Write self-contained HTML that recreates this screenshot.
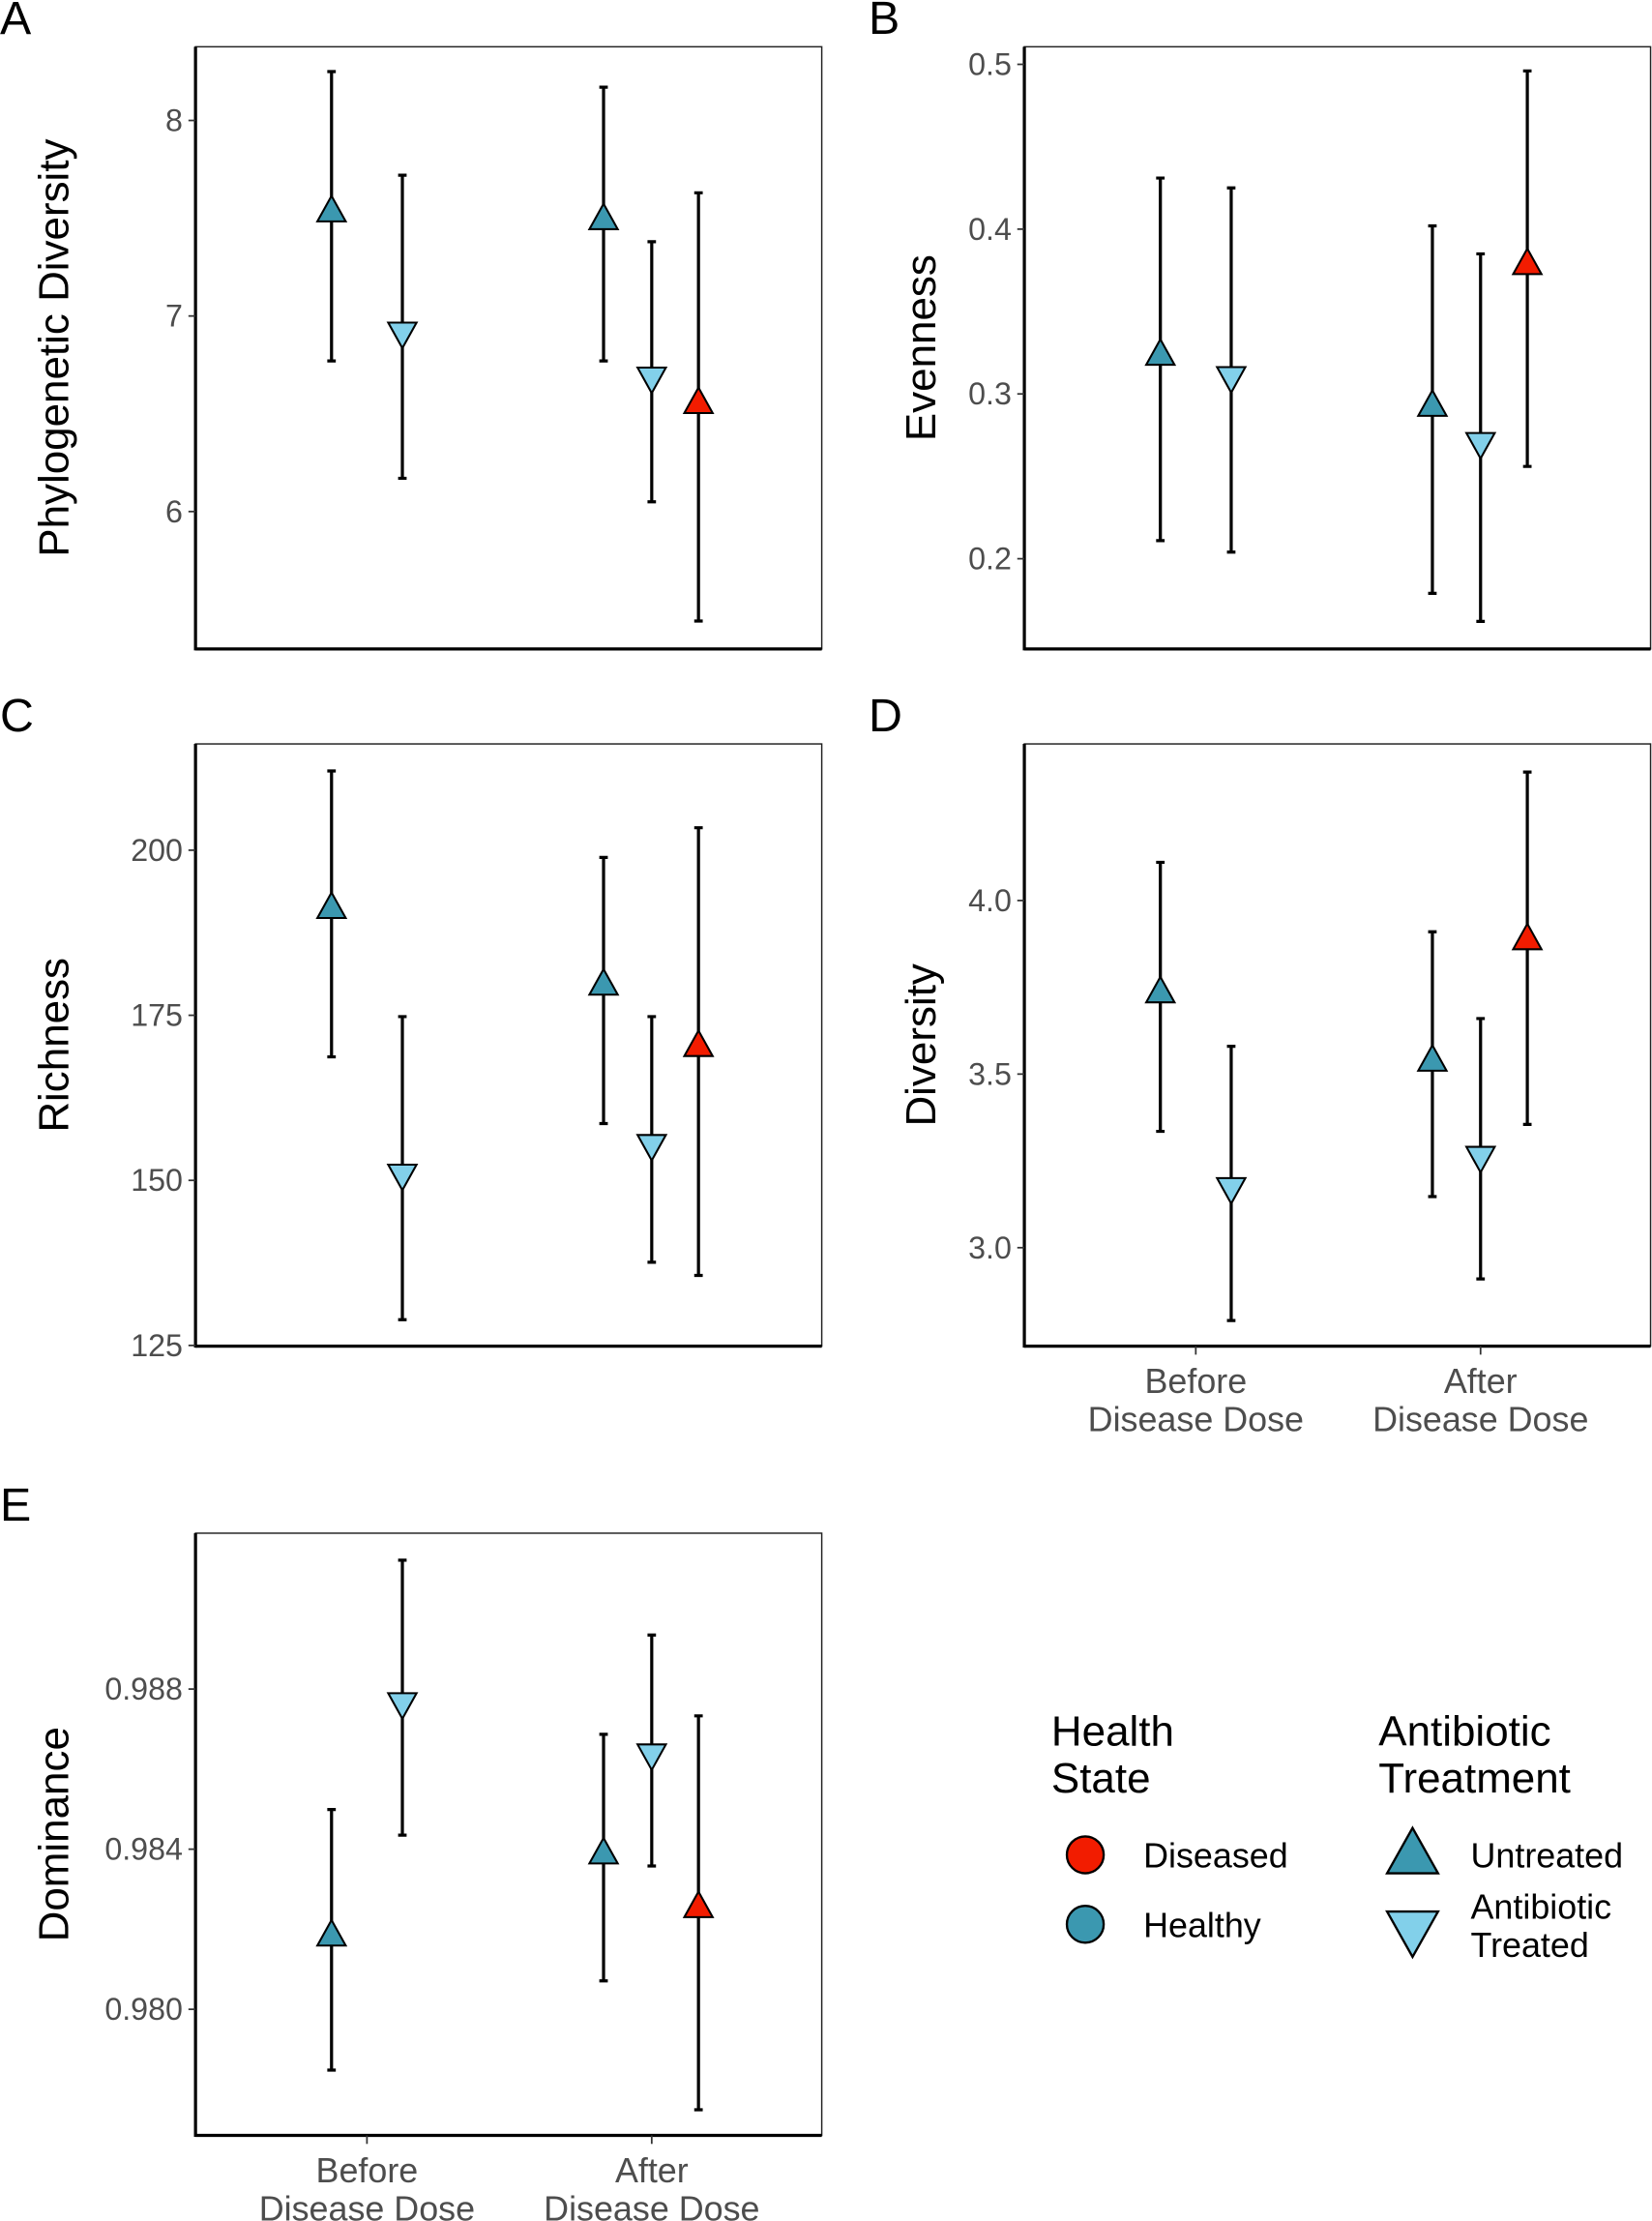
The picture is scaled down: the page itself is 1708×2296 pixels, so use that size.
<!DOCTYPE html>
<html><head><meta charset="utf-8"><style>
html,body{margin:0;padding:0;background:#fff;}
svg{display:block;font-family:"Liberation Sans",Arial,sans-serif;}
</style></head><body>
<svg id="fig" width="1708" height="2296" viewBox="0 0 1166 1567.4" xmlns="http://www.w3.org/2000/svg">
<g>
<text x="742" y="1232" font-size="30" fill="#000">Health</text>
<text x="742" y="1265" font-size="30" fill="#000">State</text>
<text x="973" y="1232" font-size="30" fill="#000">Antibiotic</text>
<text x="973" y="1265" font-size="30" fill="#000">Treatment</text>
<ellipse cx="766" cy="1309" rx="13" ry="13" fill="#f21c00" stroke="#000" stroke-width="1.6"/>
<text x="807" y="1318" font-size="24.5">Diseased</text>
<ellipse cx="766" cy="1358" rx="13" ry="13" fill="#3b98b0" stroke="#000" stroke-width="1.6"/>
<text x="807" y="1367" font-size="24.5">Healthy</text>
<polygon points="997,1290 1015,1322 979,1322" fill="#3b98b0" stroke="#000" stroke-width="1.6"/>
<text x="1038" y="1318" font-size="24.5">Untreated</text>
<polygon points="979,1349 1015,1349 997,1381" fill="#82d0ea" stroke="#000" stroke-width="1.6"/>
<text x="1038" y="1354" font-size="24.5">Antibiotic</text>
<text x="1038" y="1381" font-size="24.5">Treated</text>
</g>
</svg>
<script>
// shared per-point categories
const pointGroup = [0, 0, 1, 1, 1];            // 0 = Before, 1 = After
const pointTreat = ["up", "down", "up", "down", "up"];
const pointHealth = ["Healthy", "Healthy", "Healthy", "Healthy", "Diseased"];
const groupLabels = ["Before", "After"];

// Panel A: Phylogenetic Diversity
const aMean = [7.52, 6.93, 7.48, 6.70, 6.54];
const aLow  = [6.77, 6.17, 6.77, 6.05, 5.44];
const aHigh = [8.25, 7.72, 8.17, 7.38, 7.63];
const aTicks = [6, 7, 8];
// Panel B: Evenness
const bMean = [0.322, 0.312, 0.291, 0.272, 0.377];
const bLow  = [0.211, 0.204, 0.179, 0.162, 0.256];
const bHigh = [0.431, 0.425, 0.402, 0.385, 0.496];
const bTicks = [0.2, 0.3, 0.4, 0.5];
// Panel C: Richness
const cMean = [190.8, 151.3, 179.2, 155.8, 169.9];
const cLow  = [168.7, 128.9, 158.6, 137.6, 135.6];
const cHigh = [212.0, 174.8, 198.9, 174.8, 203.4];
const cTicks = [125, 150, 175, 200];
// Panel D: Diversity
const dMean = [3.727, 3.18, 3.53, 3.27, 3.88];
const dLow  = [3.335, 2.79, 3.147, 2.91, 3.355];
const dHigh = [4.11, 3.58, 3.91, 3.66, 4.37];
const dTicks = [3.0, 3.5, 4.0];
// Panel E: Dominance
const eMean = [0.98177, 0.98772, 0.98382, 0.98644, 0.98248];
const eLow  = [0.97848, 0.98435, 0.98071, 0.98358, 0.97749];
const eHigh = [0.98499, 0.99122, 0.98687, 0.98935, 0.98733];
const eTicks = [0.980, 0.984, 0.988];

const NS = "http://www.w3.org/2000/svg";
const svg = document.getElementById("fig");
const COL = {Healthy: "#3b98b0", Diseased: "#f21c00", treated: "#82d0ea"};
function mk(tag, attrs, parent) {
  const e = document.createElementNS(NS, tag);
  for (const k in attrs) e.setAttribute(k, attrs[k]);
  (parent || svg).appendChild(e);
  return e;
}
// dodge offsets within group (layout, not data)
const dodge = [[-25, 25], [-34, 0, 33]];

function panel(o) {
  const g = mk("g", {});
  
  
  const L = o.x, R = o.x + 442, T = o.y, B = o.y + 425;
  const yScale = v => o.y0 + (v - o.v0) * o.pxPerUnit * -1;
  const xScale = i => L + (i === 0 ? 121 : 322);
  const letter = mk("text", {x: o.lx, y: o.y - 9, "font-size": 33, fill: "#000"}, g);
  letter.textContent = o.letter;
  
  
  const box = mk("rect", {x: L, y: T, width: 442, height: 425, fill: "none", stroke: "#222", "stroke-width": 1}, g);
  
  
  const yax = mk("line", {x1: L, y1: T, x2: L, y2: B + 1, stroke: "#000", "stroke-width": 2.2}, g);
  
  
  const xax = mk("line", {x1: L, y1: B, x2: R, y2: B, stroke: "#000", "stroke-width": 2.2}, g);
  
  
  o.ticks.forEach(t => {
    const y = yScale(t);
    const tk = mk("line", {x1: L - 5, y1: y, x2: L, y2: y, stroke: "#333", "stroke-width": 1.2}, g);
    
    
    const tl = mk("text", {x: L - 9, y: y + 7.5, "font-size": 22, fill: "#4d4d4d", "text-anchor": "end"}, g);
    tl.textContent = t.toFixed(o.dec);
    
    
  });
  const cy = (T + B) / 2;
  const tx = o.tx;
  const ti = mk("text", {x: tx, y: cy, "font-size": 30, fill: "#000", "text-anchor": "middle",
    transform: "rotate(-90 " + tx + " " + cy + ")"}, g);
  ti.textContent = o.title;
  
  
  if (o.xlabels) {
    [0, 1].forEach(i => {
      const x = xScale(i);
      const tk = mk("line", {x1: x, y1: B, x2: x, y2: B + 6, stroke: "#333", "stroke-width": 1.2}, g);
      
      
      const t1 = mk("text", {x: x, y: B + 33, "font-size": 24.5, fill: "#4d4d4d", "text-anchor": "middle"}, g);
      t1.textContent = groupLabels[i];
      
      
      const t2 = mk("text", {x: x, y: B + 60, "font-size": 24.5, fill: "#4d4d4d", "text-anchor": "middle"}, g);
      t2.textContent = "Disease Dose";
      
      
    });
  }
  const cnt = [0, 0];
  o.mean.forEach((m, k) => {
    const gi = pointGroup[k];
    const x = xScale(gi) + dodge[gi][cnt[gi]++];
    const yl = yScale(o.low[k]), yh = yScale(o.high[k]), ym = yScale(m);
    const eb = mk("path", {d: `M${x},${yh}V${yl}M${x-3},${yh}H${x+3}M${x-3},${yl}H${x+3}`, stroke: "#000", "stroke-width": 2.2, fill: "none"}, g);
    
    
    let pts, fill;
    if (pointTreat[k] === "up") {
      pts = `${x},${ym-13} ${x+10},${ym+5} ${x-10},${ym+5}`;
      fill = COL[pointHealth[k]];
    } else {
      pts = `${x-10},${ym-5} ${x+10},${ym-5} ${x},${ym+13}`;
      fill = COL.treated;
    }
    const p = mk("polygon", {points: pts, fill: fill, stroke: "#000", "stroke-width": 1.4}, g);
    
    
  });
}

panel({name: "panel-a-phylogenetic-diversity", letter: "A", lx: 0, tx: 48, x: 138, y: 33, title: "Phylogenetic Diversity",
  mean: aMean, low: aLow, high: aHigh, ticks: aTicks, dec: 0, v0: 7, y0: 223, pxPerUnit: 138});
panel({name: "panel-b-evenness", letter: "B", lx: 613, tx: 660, x: 723, y: 33, title: "Evenness",
  mean: bMean, low: bLow, high: bHigh, ticks: bTicks, dec: 1, v0: 0.3, y0: 278, pxPerUnit: 1163});
panel({name: "panel-c-richness", letter: "C", lx: 0, tx: 48, x: 138, y: 525, title: "Richness",
  mean: cMean, low: cLow, high: cHigh, ticks: cTicks, dec: 0, v0: 150, y0: 833, pxPerUnit: 4.66});
panel({name: "panel-d-diversity", letter: "D", lx: 613, tx: 660, x: 723, y: 525, title: "Diversity", xlabels: true,
  mean: dMean, low: dLow, high: dHigh, ticks: dTicks, dec: 1, v0: 3.5, y0: 758, pxPerUnit: 245});
panel({name: "panel-e-dominance", letter: "E", lx: 0, tx: 48, x: 138, y: 1082, title: "Dominance", xlabels: true,
  mean: eMean, low: eLow, high: eHigh, ticks: eTicks, dec: 3, v0: 0.984, y0: 1305, pxPerUnit: 28250});
</script>
</body></html>
